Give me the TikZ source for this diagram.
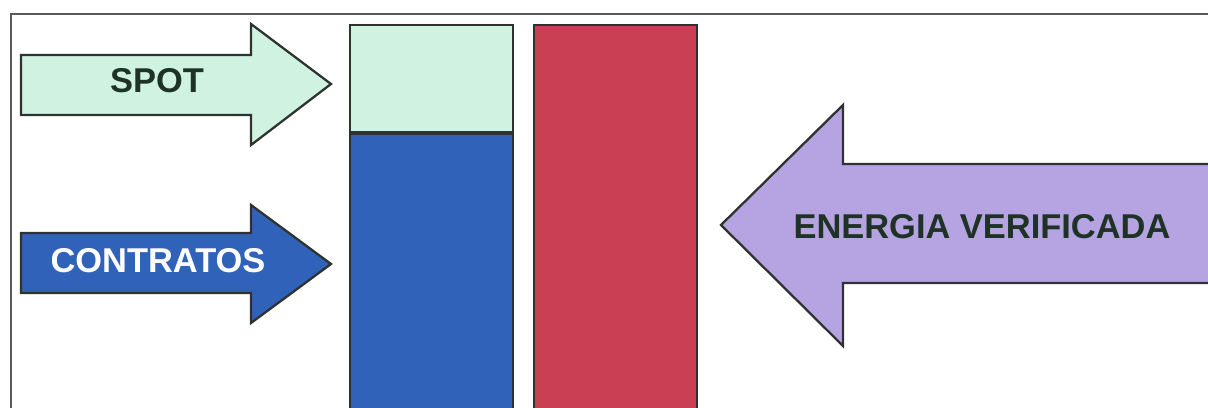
\documentclass[tikz,border=0pt]{standalone}
\usepackage{fontspec}
\setmainfont{Liberation Sans}
\usepackage{tikz}
\usetikzlibrary{positioning}
\definecolor{mint}{HTML}{CFF2E1}
\definecolor{bar}{HTML}{2F62B8}
\definecolor{ver}{HTML}{CB3F55}
\definecolor{lila}{HTML}{B6A3E2}
\definecolor{edge}{HTML}{2E3330}
\definecolor{ink}{HTML}{1E3326}
\tikzset{
  blk/.style={draw=edge,line width=1.3pt,line join=miter},
  frm/.style={draw=black!65,line width=0.9pt},
  lbl/.style={font=\bfseries\fontsize{19.6}{21}\selectfont,inner sep=0pt,text=ink},
}

\begin{document}
\begin{tikzpicture}[x=0.02cm,y=-0.02cm]
\useasboundingbox (0,0) rectangle (1208,408);
\clip (0,0) rectangle (1208,408);
\draw[frm] (11,14) rectangle (1230,430);
% left arrows
\draw[blk,fill=mint] (21,55) -- (251,55) -- (251,24) -- (331,84) -- (251,145) -- (251,115) -- (21,115) -- cycle;
\draw[blk,fill=bar] (21,233) -- (251,233) -- (251,205) -- (331,264) -- (251,323) -- (251,293) -- (21,293) -- cycle;
% bars
\draw[blk,fill=bar] (350,133) rectangle (513,430);
\draw[blk,fill=mint] (350,25) rectangle (513,133);
\draw[edge,line width=2.4pt] (350,133) -- (513,133);
\draw[blk,fill=ver] (534,25) rectangle (697,430);
% right arrow
\draw[blk,fill=lila] (1230,164) -- (843,164) -- (843,105) -- (721,225) -- (843,346) -- (843,283) -- (1230,283) -- cycle;
\node[lbl] (spot) at (157,81) {SPOT};
\node[lbl,text=white] (contratos) at (158,261) {CONTRATOS};
\node[lbl] (energia) at (982,227) {ENERGIA VERIFICADA};
\end{tikzpicture}
\end{document}
